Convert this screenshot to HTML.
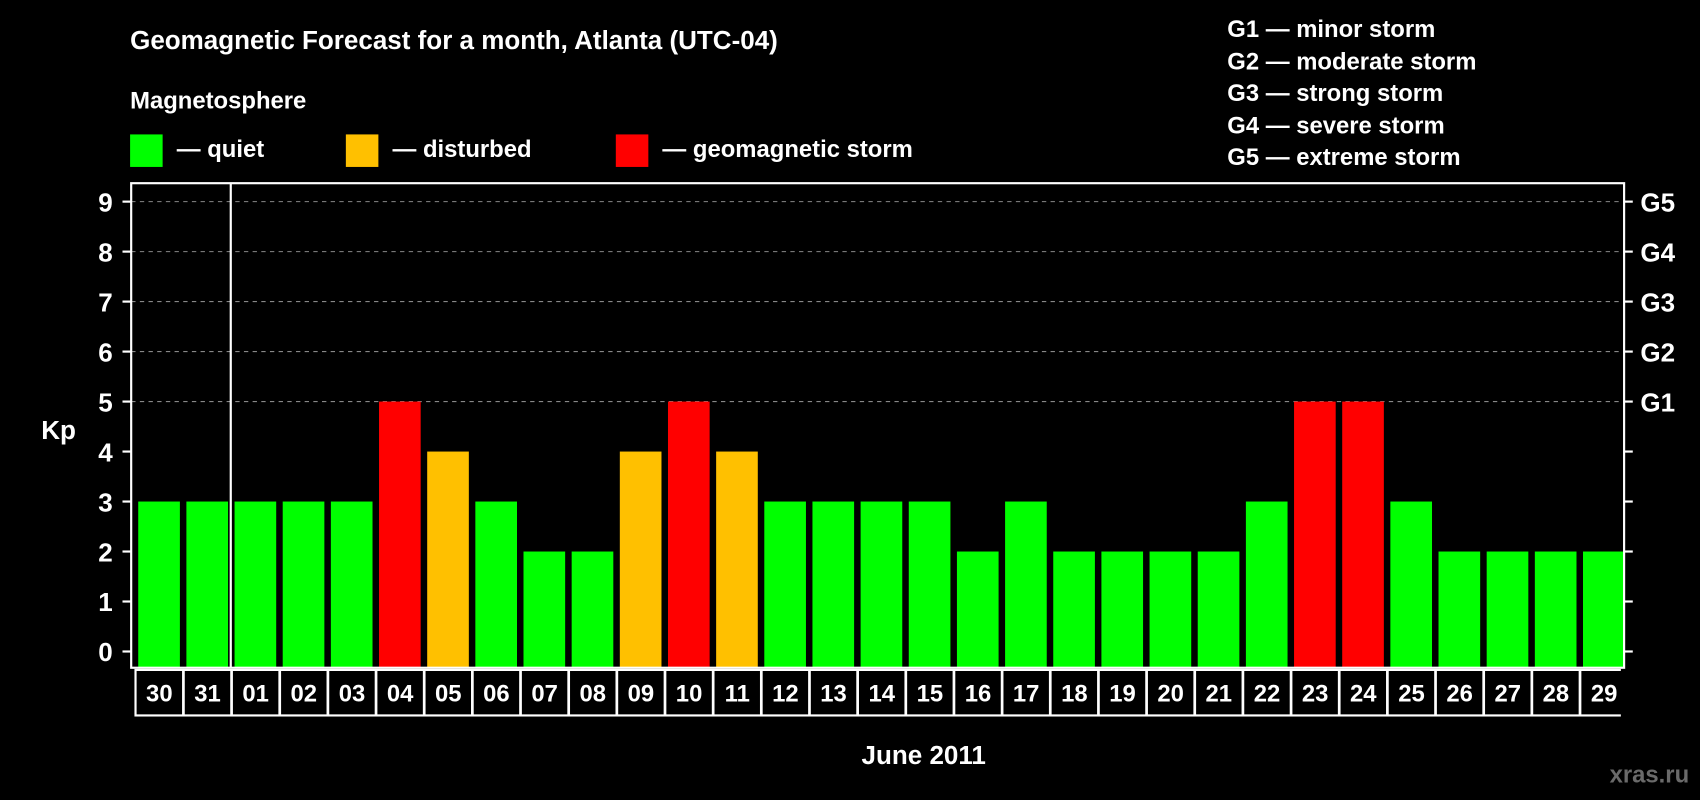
<!DOCTYPE html>
<html><head><meta charset="utf-8"><style>
html,body{margin:0;padding:0;background:#000;width:1700px;height:800px;overflow:hidden}
svg{display:block}
text{font-family:"Liberation Sans",Arial,sans-serif;font-weight:bold;fill:#fff}
</style></head><body>
<svg id="chart" width="1700" height="800" viewBox="0 0 1568 738" preserveAspectRatio="none">
<rect width="1568" height="738" fill="#000"/>
<text x="120" y="45" font-size="24">Geomagnetic Forecast for a month, Atlanta (UTC-04)</text>
<text x="120" y="100" font-size="22">Magnetosphere</text>
<g>
<rect x="120" y="124" width="30" height="30" fill="#00ff00"/>
<text x="163" y="145" font-size="22">— quiet</text>
<rect x="319" y="124" width="30" height="30" fill="#ffc000"/>
<text x="362" y="145" font-size="22">— disturbed</text>
<rect x="568" y="124" width="30" height="30" fill="#ff0000"/>
<text x="611" y="145" font-size="22">— geomagnetic storm</text>
</g>
<g font-size="22">
<text x="1132" y="34">G1 — minor storm</text>
<text x="1132" y="64">G2 — moderate storm</text>
<text x="1132" y="93">G3 — strong storm</text>
<text x="1132" y="123">G4 — severe storm</text>
<text x="1132" y="152">G5 — extreme storm</text>
</g>
<text x="38" y="405" font-size="24">Kp</text>
<text x="852" y="705" font-size="24" text-anchor="middle">June 2011</text>
<text x="1558" y="722" font-size="22" text-anchor="end" fill="#666" style="fill:#6a6a6a">xras.ru</text>
<g id="grid"></g>
<g id="bars"></g>
<g id="days"></g>
<rect x="121" y="169" width="1377" height="447" fill="none" stroke="#fff" stroke-width="2"/>
<g id="axes"></g>
</svg>
<script>
const days = ["30","31","01","02","03","04","05","06","07","08","09","10","11","12","13","14","15","16","17","18","19","20","21","22","23","24","25","26","27","28","29"];
const kp = [3,3,3,3,3,5,4,3,2,2,4,5,4,3,3,3,3,2,3,2,2,2,2,3,5,5,3,2,2,2,2];
const yTicks = [0,1,2,3,4,5,6,7,8,9];
const gLabels = ["G1","G2","G3","G4","G5"];
const gLevels = [5,6,7,8,9];

const NS="http://www.w3.org/2000/svg";
const X0=121,X1=1498,BASE=616;
const slot=(X1-X0)/days.length;
function y(v){return 601-v*(601-186)/9;}
function xs(i){return X0+i*slot;}
function color(v){return v>=5?"#ff0000":(v>=4?"#ffc000":"#00ff00");}
function mk(tag,attrs,parent){const e=document.createElementNS(NS,tag);for(const k in attrs)e.setAttribute(k,attrs[k]);parent.appendChild(e);return e;}
const grid=document.getElementById('grid'),bars=document.getElementById('bars'),dg=document.getElementById('days'),axes=document.getElementById('axes');

yTicks.forEach(t=>{
  if(t>=5){const l=mk('line',{x1:X0,x2:X1,y1:y(t),y2:y(t),stroke:'#888','stroke-dasharray':'4,4','stroke-width':1},grid);
  
  }
  const tk=mk('line',{x1:113,x2:X0,y1:y(t),y2:y(t),stroke:'#fff','stroke-width':2},axes);
  
  
  const tr=mk('line',{x1:X1,x2:1506,y1:y(t),y2:y(t),stroke:'#fff','stroke-width':2},axes);
  
  
  const tx=mk('text',{x:104,y:y(t)+9,'font-size':24,'text-anchor':'end'},axes);
  tx.textContent=t;
  
  
});
gLabels.forEach((g,i)=>{
  const tx=mk('text',{x:1513,y:y(gLevels[i])+9,'font-size':24},axes);
  tx.textContent=g;
  
  
});
mk('rect',{x:X0+3,y:617,width:X1-X0-6,height:44,fill:'#fff'},dg);
days.forEach((d,i)=>{
  const b=mk('rect',{x:xs(i)+6.5,y:y(kp[i]),width:slot-6,height:BASE-y(kp[i]),fill:color(kp[i])},bars);
  
  
  const c=mk('rect',{x:xs(i)+5,y:619,width:slot-2.5,height:40,fill:'#000'},dg);
  
  
  const t=mk('text',{x:xs(i)+5+(slot-2.5)/2,y:647,'font-size':22,'text-anchor':'middle'},dg);
  t.textContent=d;
  
  
});
const sx=xs(2)+3;
const sep=mk('line',{x1:sx,x2:sx,y1:169,y2:616,stroke:'#fff','stroke-width':2},axes);


</script>
</body></html>
